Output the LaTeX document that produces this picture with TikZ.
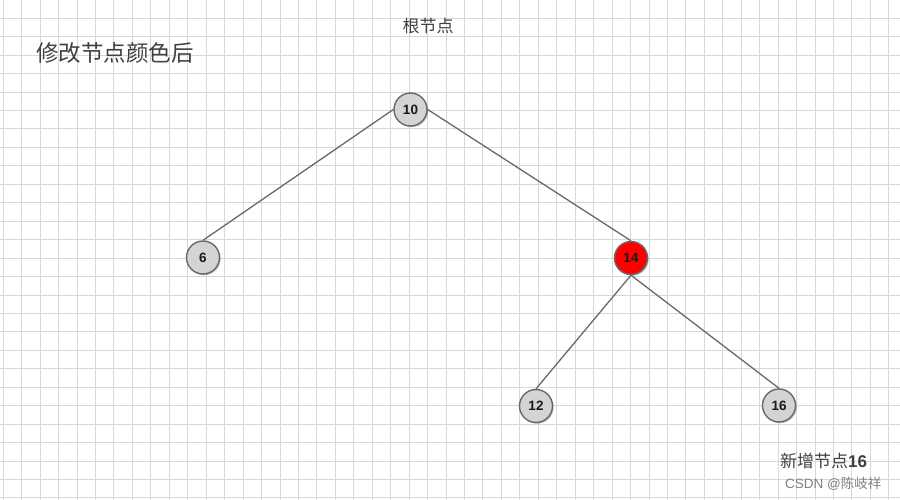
\documentclass[tikz,border=0pt]{standalone}
\usepackage{fontspec}
\setmainfont{Liberation Sans}
\newfontfamily\cjk{Noto Sans CJK SC}
\usetikzlibrary{shadows}
\definecolor{gridc}{RGB}{216,216,216}
\definecolor{nodefill}{RGB}{212,212,212}
\definecolor{nodeline}{RGB}{105,105,105}
\definecolor{edgec}{RGB}{105,105,105}
\definecolor{redfill}{RGB}{255,0,0}
\tikzset{
  gridline/.style={draw=gridc, line width=1.2pt},
  treenode/.style={circle, draw=nodeline, line width=1.4pt, fill=nodefill,
    minimum size=33pt, inner sep=0pt, text=black!90,
    font=\fontsize{13.5}{13.5}\selectfont\bfseries,
    drop shadow={shadow xshift=1.2pt, shadow yshift=-1.2pt, opacity=0.25, fill=black}},
  rednode/.style={treenode, fill=redfill},
  link/.style={draw=edgec, line width=1.3pt},
  lbl/.style={inner sep=0pt, text=black!75}
}
\begin{document}
\begin{tikzpicture}[x=1pt, y=-1pt]
\useasboundingbox (0,0) rectangle (900,500);
\fill[white] (0,0) rectangle (900,500);
\foreach \i in {0,...,48} {%
  \pgfmathsetmacro\gx{floor(3.3+18.45*\i)+0.5}%
  \draw[gridline] (\gx,0) -- (\gx,500);}
\foreach \j in {1,...,27} {%
  \pgfmathsetmacro\gy{floor(-0.15+18.45*\j)+0.5}%
  \draw[gridline] (0,\gy) -- (900,\gy);}

\node[treenode] (n10) at (410.5,109.5) {10};
\node[treenode] (n6) at (203,257.5) {6};
\node[rednode] (n14) at (631,258) {14};
\node[treenode] (n12) at (536,406) {12};
\node[treenode] (n16) at (779,405.5) {16};

\draw[link] (n10.west) -- (n6.north);
\draw[link] (n10.east) -- (n14.north);
\draw[link] (n14.south) -- (n12.north);
\draw[link] (n14.south) -- (n16.north);

\node[lbl, anchor=center, font=\cjk\fontsize{17}{17}\selectfont] (root) at (428,26) {根节点};
\node[lbl, anchor=west, font=\cjk\fontsize{22.5}{22.5}\selectfont] (title) at (36,53) {修改节点颜色后};
\node[lbl, anchor=west, font=\fontsize{17}{17}\selectfont] (newn) at (780,460.5) {{\cjk 新增节点}\textbf{16}};
\node[lbl, anchor=west, text=black!50, font=\fontsize{13.5}{13.5}\selectfont] (wm) at (785,484) {CSDN @{\cjk 陈岐祥}};
\end{tikzpicture}
\end{document}
